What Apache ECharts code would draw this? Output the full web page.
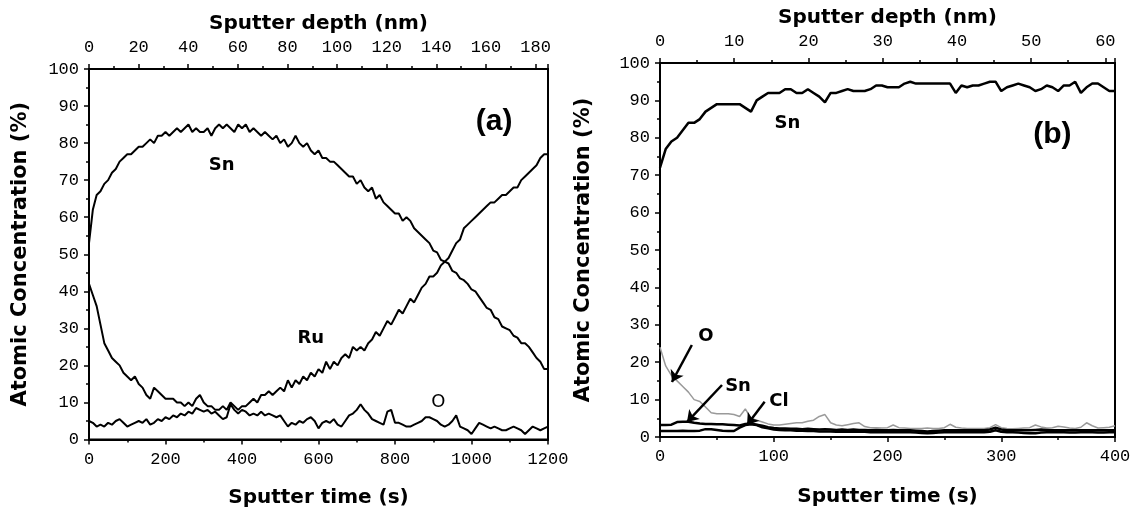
<!DOCTYPE html>
<html>
<head>
<meta charset="utf-8">
<title>Sputter depth profiles</title>
<script src="https://cdn.jsdelivr.net/npm/echarts@6/dist/echarts.min.js"></script>
<style>
  html, body { margin: 0; padding: 0; background: #fff; }
  #chart { width: 1134px; height: 513px; }
</style>
</head>
<body>
<div id="chart"></div>
<script>
// panel (a): every 10 s
const timeA = Array.from({ length: 121 }, (_, i) => i * 10);
const snA = [
  53, 62, 66, 67, 69, 70, 72, 73, 75, 76,
  77, 77, 78, 79, 79, 80, 81, 80, 82, 82,
  83, 82, 83, 84, 83, 84, 85, 83, 84, 83,
  83, 84, 82, 84, 85, 84, 85, 84, 83, 85,
  84, 85, 83, 84, 83, 82, 83, 82, 81, 82,
  80, 81, 79, 80, 82, 80, 79, 80, 78, 77,
  78, 76, 76, 75, 75, 74, 73, 72, 71, 71,
  69, 70, 68, 67, 68, 65, 66, 64, 63, 62,
  61, 61, 59, 60, 59, 57, 56, 55, 54, 53,
  51, 50.5, 48.5, 48, 47.5, 45.5, 45, 43.5, 43, 42,
  40.5, 40, 38.5, 37, 35.5, 35, 33, 32.5, 30.5, 30,
  29.5, 28, 27.5, 26, 26, 25, 23.5, 22, 21, 19,
  19
];
const ruA = [
  42, 39, 36, 31, 26, 24, 22, 21, 20, 18,
  17, 16, 17, 15, 14, 12, 11, 14, 13, 12,
  11, 11, 11, 10, 10, 9, 10, 9, 11, 12,
  10, 9, 9, 8, 8, 9, 8, 10, 9, 8,
  9, 9, 10, 11, 10, 12, 12, 13, 12, 13,
  14, 13, 16, 14, 16, 15, 17, 16, 18, 17,
  19, 18, 21, 19, 21, 20, 22, 23, 22, 25,
  24, 25, 24, 26, 27, 29, 28, 30, 32, 31,
  33, 35, 34, 36, 38, 37, 39, 41, 42, 44,
  44, 45, 47, 48, 49, 51, 53, 54, 57, 58,
  59, 60, 61, 62, 63, 64, 64, 65, 66, 66,
  67, 68, 68, 70, 71, 72, 73, 74, 76, 77,
  77
];
const oA = [
  5, 4.5, 3.5, 4, 3.5, 4.5, 4, 5, 5.5, 4.5,
  3.5, 4, 4.5, 5, 4.5, 5.5, 4, 4.5, 5.5, 5,
  6, 5.5, 6.5, 6, 7, 6.5, 7.5, 7, 8.5, 8,
  7.5, 8, 7, 7.5, 6.5, 5.5, 6, 9.5, 8, 7,
  8, 7.5, 6.5, 7, 6.5, 7.5, 6.5, 7, 6.5, 6,
  6.5, 5, 3.5, 4.5, 4, 5, 4.5, 5.5, 6, 5,
  3, 4.5, 5, 4.5, 5.5, 4, 3.5, 5, 6.5, 7,
  8, 9.5, 8, 7, 5.5, 5, 4.5, 4, 7.5, 8,
  4.5, 4.5, 4, 3.5, 3.5, 4, 4.5, 5, 6, 6,
  5.5, 5, 4, 3.5, 4, 5, 6.5, 3.5, 3, 2.5,
  1.5, 3, 4.5, 4, 3.5, 3, 3.5, 3, 2.5, 2.5,
  3, 3.5, 3, 2.5, 1.5, 2.5, 3.5, 3, 2.5, 3,
  3.5
];

// panel (b): every 5 s
const timeB = Array.from({ length: 81 }, (_, i) => i * 5);
const snB = [
  72, 77, 79, 80, 82, 84, 84, 85, 87, 88,
  89, 89, 89, 89, 89, 88, 87, 90, 91, 92,
  92, 92, 93, 93, 92, 92, 93, 92, 91, 89.5,
  92, 92, 92.5, 93, 92.5, 92.5, 92.5, 93, 94, 94,
  93.5, 93.5, 93.5, 94.5, 95, 94.5, 94.5, 94.5, 94.5, 94.5,
  94.5, 94.5, 92, 94, 93.5, 94, 94, 94.5, 95, 95,
  92.5, 93.5, 94, 94.5, 94, 93.5, 92.5, 93, 94, 93.5,
  92.5, 94, 94, 95, 92, 93.5, 94.5, 94.5, 93.5, 92.5,
  92.5
];
const oB = [
  24, 19, 16.5, 15, 13.5, 12, 10, 9.5, 8, 6.5,
  6.2, 6.2, 6.2, 6, 5.5, 7.5, 5, 4.5, 4, 3.5,
  3.2, 3.2, 3.4, 3.6, 3.8, 3.8, 4.2, 4.5, 5.5, 6,
  3.8, 3.2, 3, 3.3, 3.6, 3.8, 2.8, 2.5, 2.5, 2.4,
  2.5, 3.2, 2.5, 2.4, 2.3, 2.3, 2.3, 2.4, 2.3, 2.3,
  2.5, 3.4, 2.6, 2.4, 2.3, 2.3, 2.3, 2.3, 2.5, 3.3,
  2.5, 2.3, 2.2, 2.3, 2.4, 2.5, 3.2, 2.7, 2.4, 2.5,
  2.9, 2.7, 2.4, 2.3, 2.6, 3.8, 3, 2.4, 2.5, 2.6,
  3
];
const snLowB = [
  3.2, 3.2, 3.3, 4, 4.1, 4.1, 3.8, 3.6, 3.5, 3.5,
  3.4, 3.4, 3.3, 3.2, 3.1, 3.5, 3.6, 3.3, 3, 2.6,
  2.4, 2.3, 2.3, 2.2, 2.2, 2.1, 2.2, 2.1, 2, 2.1,
  2, 1.9, 2, 1.9, 2, 1.9, 1.9, 1.8, 1.9, 1.8,
  1.8, 1.9, 1.8, 1.8, 1.8, 1.7, 1.6, 1.5, 1.6, 1.7,
  1.8, 1.8, 1.8, 1.8, 1.8, 1.8, 1.8, 1.8, 2, 2.5,
  2, 1.8, 1.8, 1.8, 1.8, 1.8, 1.9, 2, 1.9, 1.8,
  1.8, 1.8, 1.8, 1.8, 1.8, 1.8, 1.8, 1.8, 1.8, 1.8,
  1.8
];
const clB = [
  1.6, 1.6, 1.6, 1.6, 1.7, 1.6, 1.6, 1.7, 2.1, 2.1,
  1.9, 1.7, 1.6, 1.6, 2.5, 3.2, 3.4, 3.2, 2.6, 2.3,
  2, 1.9, 1.8, 1.8, 1.7, 1.7, 1.6, 1.6, 1.5, 1.5,
  1.5, 1.4, 1.4, 1.4, 1.4, 1.4, 1.4, 1.3, 1.3, 1.3,
  1.3, 1.3, 1.3, 1.3, 1.3, 1.2, 1.1, 1, 1.1, 1.2,
  1.3, 1.3, 1.3, 1.3, 1.3, 1.3, 1.3, 1.3, 1.4, 1.8,
  1.4, 1.3, 1.3, 1.2, 1.1, 1, 1, 1.2, 1.3, 1.3,
  1.3, 1.3, 1.2, 1.2, 1.3, 1.3, 1.3, 1.2, 1.2, 1.3,
  1.3
];

const monoFont = '"Liberation Mono", monospace';
const titleFont = '"DejaVu Sans", sans-serif';

const pairs = (ts, vs) => ts.map((t, i) => [t, vs[i]]);

const axisLine = { show: true, onZero: false, lineStyle: { color: "#000", width: 2 } };
const axisTick = { show: true, inside: false, length: 5, lineStyle: { color: "#000", width: 1.5 } };
const minorTick = { show: true, splitNumber: 2, length: 3, lineStyle: { color: "#000", width: 1.5 } };
const nameStyle = { fontFamily: titleFont, fontWeight: "bold", fontSize: 20, color: "#000" };

function xAxisFor(grid, pos, max, interval, name, gap, margin) {
  return {
    gridIndex: grid,
    type: "value",
    position: pos,
    min: 0,
    max: max,
    interval: interval,
    name: name,
    nameLocation: "middle",
    nameGap: gap,
    nameTextStyle: nameStyle,
    axisLine: axisLine,
    axisTick: axisTick,
    minorTick: minorTick,
    splitLine: { show: false },
    axisLabel: {
      color: "#000",
      fontFamily: monoFont,
      fontSize: 17,
      margin: margin,
      showMaxLabel: pos === "bottom",
      formatter: (v) => String(v),
    },
  };
}

function yAxisFor(grid, gap) {
  return {
    gridIndex: grid,
    type: "value",
    min: 0,
    max: 100,
    interval: 10,
    name: "Atomic Concentration (%)",
    nameLocation: "middle",
    nameRotate: 90,
    nameGap: gap,
    nameTextStyle: Object.assign({}, nameStyle, { fontSize: 21 }),
    axisLine: axisLine,
    axisTick: axisTick,
    minorTick: minorTick,
    splitLine: { show: false },
    axisLabel: { color: "#000", fontFamily: monoFont, fontSize: 17, margin: 10 },
  };
}

function line(name, xi, yi, data, color, width) {
  return {
    name: name,
    type: "line",
    xAxisIndex: xi,
    yAxisIndex: yi,
    data: data,
    symbol: "none",
    lineStyle: { color: color, width: width },
    z: 3,
  };
}

const textMark = {
  symbol: "circle",
  symbolSize: 1,
  itemStyle: { color: "rgba(0,0,0,0)" },
  label: {
    show: true,
    position: "inside",
    formatter: "{b}",
    color: "#000",
    fontFamily: titleFont,
    fontWeight: "bold",
    fontSize: 18,
  },
};
const panelLabel = { fontFamily: '"Liberation Sans", sans-serif', fontSize: 30, fontWeight: "bold" };

let chart = echarts.init(document.getElementById("chart"));

let seriesA = [
  line("Sn", 0, 0, pairs(timeA, snA), "#000", 2),
  line("Ru", 0, 0, pairs(timeA, ruA), "#000", 2),
  line("O", 0, 0, pairs(timeA, oA), "#000", 2),
];
seriesA[0].markPoint = Object.assign({}, textMark, {
  data: [
    { name: "Sn", coord: [347, 74] },
    { name: "Ru", coord: [580, 27.4] },
    { name: "O", coord: [913, 10], label: { fontWeight: "normal" } },
    { name: "(a)", coord: [1059, 85.8], label: panelLabel },
  ],
});

let seriesB = [
  line("O", 2, 1, pairs(timeB, oB), "#9a9a9a", 1.5),
  line("Sn", 2, 1, pairs(timeB, snB), "#000", 2.5),
  line("Sn", 2, 1, pairs(timeB, snLowB), "#000", 2.5),
  line("Cl", 2, 1, pairs(timeB, clB), "#000", 2.5),
];
seriesB[1].markPoint = Object.assign({}, textMark, {
  data: [
    { name: "Sn", coord: [112, 84] },
    { name: "(b)", coord: [345, 80.7], label: panelLabel },
    { name: "O", coord: [40.4, 27] },
    { name: "Sn", coord: [68.6, 13.6] },
    { name: "Cl", coord: [104.6, 9.6] },
  ],
});
// arrows pointing at the low curves
seriesB[1].markLine = {
  silent: true,
  symbol: ["none", "arrow"],
  symbolSize: 11,
  label: { show: false },
  lineStyle: { color: "#000", width: 2.5, type: "solid" },
  data: [
    [{ coord: [28, 24.6] }, { coord: [10.5, 14.7] }],
    [{ coord: [54.5, 13.9] }, { coord: [23.7, 4] }],
    [{ coord: [92, 9.4] }, { coord: [76.5, 3.2] }],
  ],
};

chart.setOption({
  animation: false,
  backgroundColor: "#fff",
  grid: [
    { left: 89, top: 69, width: 459, height: 370.5, show: true, borderColor: "#000", borderWidth: 2 },
    { left: 660, top: 63, width: 455, height: 374, show: true, borderColor: "#000", borderWidth: 2 },
  ],
  xAxis: [
    xAxisFor(0, "bottom", 1200, 200, "Sputter time (s)", 48, 11),
    xAxisFor(0, "top", 185, 20, "Sputter depth (nm)", 33, 13),
    xAxisFor(1, "bottom", 400, 100, "Sputter time (s)", 50, 11),
    xAxisFor(1, "top", 61.3, 10, "Sputter depth (nm)", 33, 13),
  ],
  yAxis: [yAxisFor(0, 58), yAxisFor(1, 66)],
  series: seriesA.concat(seriesB),
});
</script>
</body>
</html>
